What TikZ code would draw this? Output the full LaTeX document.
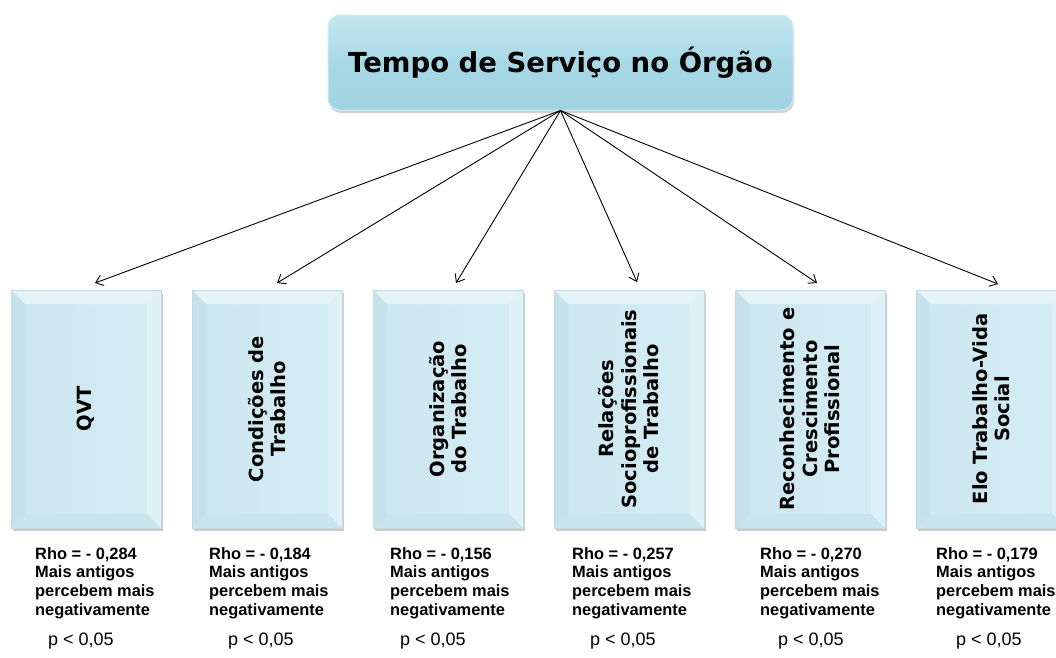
\documentclass[tikz,border=0pt]{standalone}
\usepackage{fontspec}
\setmainfont{Liberation Sans}
\newfontfamily\dvfont{DejaVu Sans}
\usetikzlibrary{arrows.meta,calc,shadows}
\definecolor{bvface}{RGB}{205,231,239}
\definecolor{bvfaceR}{RGB}{213,236,243}
\definecolor{bvtop}{RGB}{228,243,248}
\definecolor{bvleft}{RGB}{198,225,234}
\definecolor{bvright}{RGB}{222,241,247}
\definecolor{bvbottom}{RGB}{200,228,236}
\definecolor{bvedge}{RGB}{190,218,227}
\definecolor{ttop}{RGB}{196,231,240}
\definecolor{tmid}{RGB}{168,216,229}
\definecolor{tbot}{RGB}{160,211,226}
\definecolor{tedge}{RGB}{205,236,244}
\begin{document}
\begin{tikzpicture}[x=1pt,y=-1pt,
  titlebox/.style={rectangle, rounded corners=12pt, minimum width=465pt, minimum height=95pt,
    inner sep=0pt, top color=ttop, bottom color=tbot, middle color=tmid, draw=tedge, line width=1pt,
    drop shadow={shadow xshift=1pt, shadow yshift=-3pt, opacity=.35, fill=gray},
    font=\dvfont\bfseries\fontsize{27.5}{30}\selectfont},
  bevelbox/.style={rectangle, minimum width=150pt, minimum height=238pt, inner sep=0pt,
    left color=bvface, right color=bvfaceR, draw=bvedge, line width=.4pt,
    drop shadow={shadow xshift=2pt, shadow yshift=-3pt, opacity=.4, fill=gray},
    path picture={
      \path (path picture bounding box.north west) coordinate (pnw)
            (path picture bounding box.north east) coordinate (pne)
            (path picture bounding box.south west) coordinate (psw)
            (path picture bounding box.south east) coordinate (pse);
      \fill[bvtop] (pnw) -- (pne) -- ++(-14,14) -- ($(pnw)+(14,14)$) -- cycle;
      \fill[bvleft] (pnw) -- ++(14,14) -- ($(psw)+(14,-14)$) -- (psw) -- cycle;
      \fill[bvright] (pne) -- ++(-14,14) -- ($(pse)+(-14,-14)$) -- (pse) -- cycle;
      \fill[bvbottom] (psw) -- ++(14,-14) -- ($(pse)+(-14,-14)$) -- (pse) -- cycle;
    }},
  boxtext/.style={rotate=90, align=center, inner sep=0pt,
    font=\dvfont\bfseries\fontsize{19.5}{22.5}\selectfont},
  infotext/.style={anchor=north west, align=left, inner sep=0pt,
    font=\bfseries\fontsize{16.4}{18.7}\selectfont},
  ptext/.style={anchor=base west, inner sep=0pt, font=\fontsize{18}{20}\selectfont},
  conn/.style={line width=.9pt, -{Straight Barb[length=7pt,width=11pt]}}
]
\useasboundingbox (0,0) rectangle (1056,657);
\fill[white] (0,0) rectangle (1056,657);

\node[titlebox] (top) at (560.5,62.5) {Tempo de Serviço no Órgão};

\node[bevelbox] (b1) at (86,409) {};
\node[bevelbox] (b2) at (267,409) {};
\node[bevelbox] (b3) at (448,409) {};
\node[bevelbox] (b4) at (629,409) {};
\node[bevelbox] (b5) at (810,409) {};
\node[bevelbox] (b6) at (991,409) {};

\node[boxtext] (t1) at (b1) {QVT};
\node[boxtext] (t2) at (b2) {Condições de\\Trabalho};
\node[boxtext] (t3) at (b3) {Organização\\do Trabalho};
\node[boxtext] (t4) at (b4) {Relações\\Socioprofissionais\\de Trabalho};
\node[boxtext] (t5) at (b5) {Reconhecimento e\\Crescimento\\Profissional};
\node[boxtext] (t6) at (b6) {Elo Trabalho-Vida\\Social};

\coordinate (e1) at (95,283);
\coordinate (e2) at (277,283);
\coordinate (e3) at (456,283);
\coordinate (e4) at (637,282);
\coordinate (e5) at (817,283);
\coordinate (e6) at (998,284);
\foreach \i in {1,...,6} \draw[conn] (top.south) -- (e\i);

\node[infotext] (r1) at (35,547) {Rho = - 0,284\\Mais antigos\\percebem mais\\negativamente};
\node[infotext] (r2) at (209,547) {Rho = - 0,184\\Mais antigos\\percebem mais\\negativamente};
\node[infotext] (r3) at (390,547) {Rho = - 0,156\\Mais antigos\\percebem mais\\negativamente};
\node[infotext] (r4) at (572,547) {Rho = - 0,257\\Mais antigos\\percebem mais\\negativamente};
\node[infotext] (r5) at (760,547) {Rho = - 0,270\\Mais antigos\\percebem mais\\negativamente};
\node[infotext] (r6) at (936,547) {Rho = - 0,179\\Mais antigos\\percebem mais\\negativamente};

\node[ptext] (p1) at (48,645) {p < 0,05};
\node[ptext] (p2) at (228,645) {p < 0,05};
\node[ptext] (p3) at (400,645) {p < 0,05};
\node[ptext] (p4) at (590,645) {p < 0,05};
\node[ptext] (p5) at (778,645) {p < 0,05};
\node[ptext] (p6) at (956,645) {p < 0,05};
\end{tikzpicture}
\end{document}
